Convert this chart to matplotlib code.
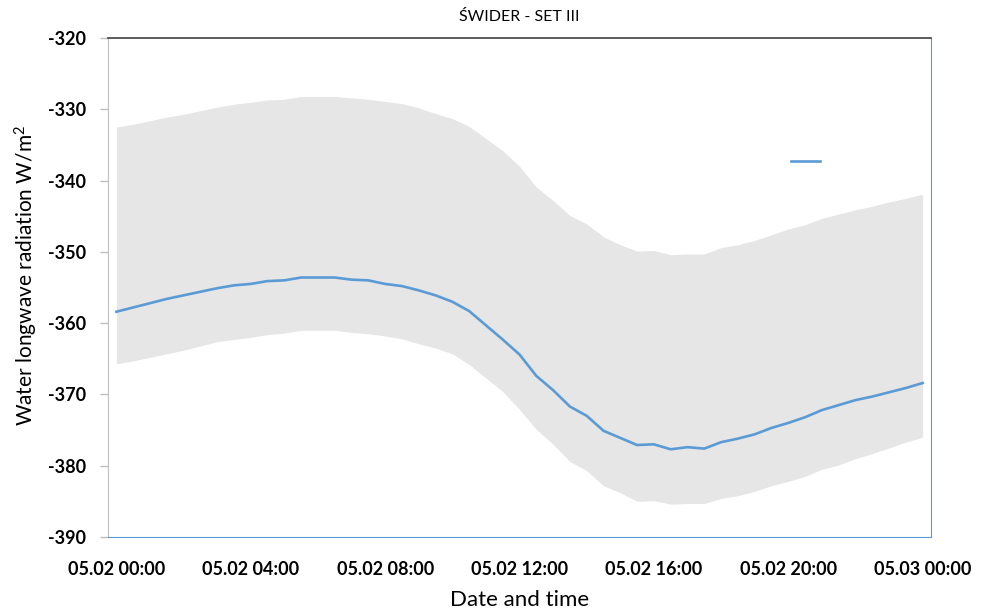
import matplotlib
matplotlib.use("Agg")
import numpy as np
import matplotlib.pyplot as plt

# half-hourly readings over one day (hours since 05.02 00:00)
hours = np.arange(0, 24.5, 0.5)

mean_lw = [-358.4, -357.8, -357.2, -356.6, -356.1, -355.6, -355.1, -354.7, -354.5, -354.1,
           -354.0, -353.6, -353.6, -353.6, -353.9, -354.0, -354.5, -354.8, -355.4, -356.1,
           -357.0, -358.3, -360.3, -362.3, -364.4, -367.4, -369.4, -371.7, -373.0, -375.1,
           -376.1, -377.1, -377.0, -377.7, -377.4, -377.6, -376.7, -376.2, -375.6, -374.7,
           -374.0, -373.2, -372.2, -371.5, -370.8, -370.3, -369.7, -369.1, -368.4]

upper_lw = [-332.5, -332.1, -331.6, -331.1, -330.7, -330.2, -329.7, -329.3, -329.0, -328.7,
            -328.6, -328.2, -328.2, -328.2, -328.4, -328.6, -328.9, -329.2, -329.8, -330.6,
            -331.3, -332.4, -334.1, -335.8, -338.0, -340.9, -342.8, -344.9, -346.1, -347.9,
            -349.0, -349.9, -349.8, -350.4, -350.3, -350.3, -349.4, -349.0, -348.4, -347.6,
            -346.8, -346.2, -345.3, -344.7, -344.1, -343.6, -343.0, -342.5, -341.9]

lower_lw = [-365.7, -365.3, -364.8, -364.3, -363.8, -363.2, -362.6, -362.3, -362.0, -361.6,
            -361.4, -361.0, -361.0, -361.0, -361.3, -361.5, -361.8, -362.2, -362.9, -363.5,
            -364.3, -365.8, -367.7, -369.6, -372.1, -374.9, -377.0, -379.4, -380.7, -382.8,
            -383.8, -385.0, -384.9, -385.4, -385.3, -385.3, -384.6, -384.2, -383.6, -382.8,
            -382.2, -381.5, -380.5, -379.9, -379.0, -378.3, -377.5, -376.7, -376.0]

tick_hours = [0, 4, 8, 12, 16, 20, 24]
tick_labels = ["05.02 00:00", "05.02 04:00", "05.02 08:00", "05.02 12:00",
               "05.02 16:00", "05.02 20:00", "05.03 00:00"]

plt.rcParams['font.family'] = ['Lato', 'DejaVu Sans']
plt.rcParams['axes.unicode_minus'] = False
plt.rcParams['mathtext.fontset'] = 'custom'
plt.rcParams['mathtext.rm'] = 'Lato'
plt.rcParams['mathtext.default'] = 'rm'

fig = plt.figure(figsize=(9.87, 6.13), dpi=100)
ax = fig.add_axes([0.1094, 0.124, 0.8339, 0.814])

blue = '#5b9bd5'
ax.fill_between(hours, lower_lw, upper_lw, color='#e6e6e6', linewidth=0)
line, = ax.plot(hours, mean_lw, color=blue, linewidth=1.9)

ax.set_xlim(-0.25, 24.25)
ax.set_ylim(-390, -320)
ax.set_yticks(np.arange(-390, -319, 10))
ax.set_xticks(tick_hours)
ax.set_xticklabels(tick_labels)

for lbl in ax.get_xticklabels() + ax.get_yticklabels():
    lbl.set_fontweight('bold')
    lbl.set_fontsize(13)
    lbl.set_color('#000000')

ax.tick_params(axis='x', length=0, pad=17)
ax.tick_params(axis='y', length=6, width=1, color='#bfbfbf', pad=10)

ax.spines['left'].set_color('#bfbfbf')
ax.spines['top'].set_color('#404040')
ax.spines['top'].set_linewidth(1.2)
ax.spines['right'].set_color(blue)
ax.spines['bottom'].set_color(blue)

ax.set_ylabel('Water longwave radiation W/m$^2$', fontsize=15)
ax.yaxis.set_label_coords(-0.083, 0.525)
ax.set_xlabel('Date and time', fontsize=16, labelpad=9)
ax.set_title('ŚWIDER - SET III', fontsize=11.5, pad=12)

ax.legend([line], [' '], loc='upper left', bbox_to_anchor=(0.8015, 0.7456),
          bbox_transform=fig.transFigure, frameon=False, borderpad=0,
          borderaxespad=0, handlelength=2.1, handletextpad=0.2)

fig.savefig('out.png', dpi=100)
